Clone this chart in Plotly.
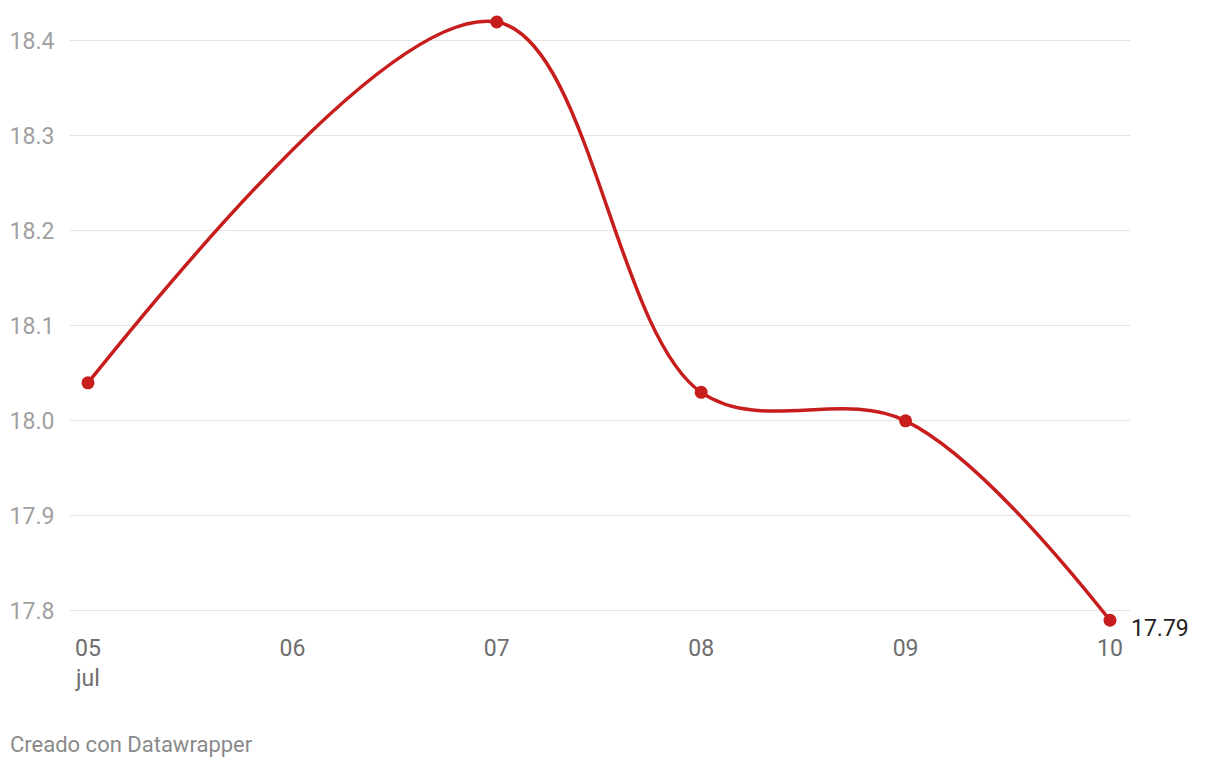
import plotly.graph_objects as go

days = [5, 7, 8, 9, 10]
values = [18.04, 18.42, 18.03, 18.00, 17.79]
x_tickvals = [5, 6, 7, 8, 9, 10]
x_ticktext = ["05<br>jul", "06", "07", "08", "09", "10"]
y_tickvals = [17.8, 17.9, 18.0, 18.1, 18.2, 18.3, 18.4]
y_ticktext = ["17.8", "17.9", "18.0", "18.1", "18.2", "18.3", "18.4"]
last_label = "17.79"
source = "Creado con Datawrapper"

RED = "#c71e1d"

fig = go.Figure()
fig.add_trace(go.Scatter(
    x=days, y=values, mode="lines+markers",
    line=dict(color=RED, width=3.5, shape="spline", smoothing=1.0),
    marker=dict(color=RED, size=13),
    cliponaxis=False, hoverinfo="skip", showlegend=False,
))

fig.add_annotation(x=days[-1], y=values[-1], text=last_label, showarrow=False,
                   xanchor="left", yanchor="middle", xshift=19, yshift=-8,
                   font=dict(family="Roboto", size=23, color="#222222"))
fig.add_annotation(xref="paper", yref="paper", text=source,
                   showarrow=False, xanchor="left", yanchor="middle",
                   x=-62/1060, y=-119.75/617.25,
                   font=dict(family="Roboto", size=22, color="#8a8a8a"))

fig.update_layout(
    width=1212, height=760,
    margin=dict(l=62, r=90, t=0, b=142.75),
    paper_bgcolor="white", plot_bgcolor="white",
    font=dict(family="Roboto", size=23),
    xaxis=dict(range=[4.912, 10.098], tickvals=x_tickvals, ticktext=x_ticktext,
               showgrid=False, zeroline=False, showline=False,
               ticks="outside", ticklen=2, tickcolor="rgba(0,0,0,0)",
               tickfont=dict(family="Roboto", size=23, color="#6e6e6e")),
    yaxis=dict(range=[17.785, 18.43474], tickvals=y_tickvals, ticktext=y_ticktext,
               showgrid=True, gridcolor="#e3e3e3", gridwidth=1,
               zeroline=False, showline=False,
               ticks="outside", ticklen=10, tickcolor="rgba(0,0,0,0)",
               tickfont=dict(family="Roboto", size=23, color="#a0a0a0")),
)

fig.write_html("out.html")
